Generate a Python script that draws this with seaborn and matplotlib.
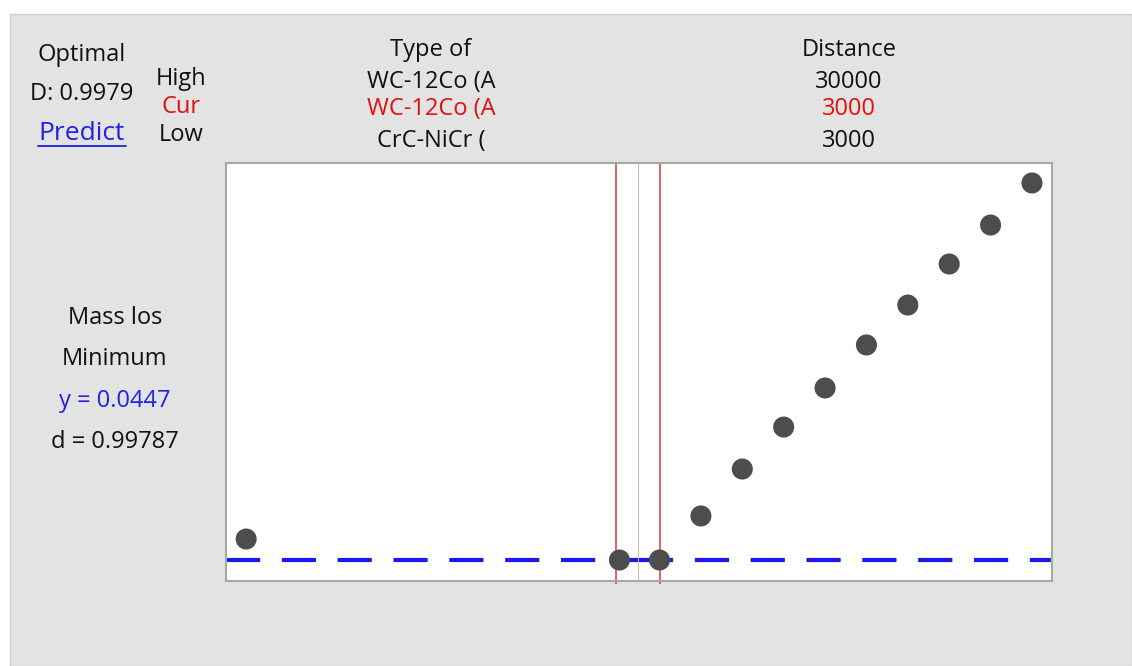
import matplotlib
matplotlib.use("Agg")
import matplotlib.pyplot as plt
import matplotlib.patches as mpatches
import pandas as pd
import seaborn as sns

# Response optimizer data (Mass loss vs factors)
type_levels = ["CrC-NiCr (", "WC-12Co (A"]
type_mass_loss = [0.0671, 0.0447]
distance = [3000, 6000, 9000, 12000, 15000, 18000, 21000, 24000, 27000, 30000]
distance_mass_loss = [0.0447, 0.0917, 0.1418, 0.1866, 0.2283,
                      0.2742, 0.3168, 0.3606, 0.4022, 0.4471]
y_target = 0.0447
type_cur = "WC-12Co (A"
distance_cur = 3000

sns.set_style("white")
plt.rcParams['font.family'] = ['Open Sans', 'DejaVu Sans']

W, H = 1132, 666
fig = plt.figure(figsize=(W / 100, H / 100), dpi=100)
fig.patch.set_facecolor("white")

# grey panel background
bg = mpatches.Rectangle((10 / W, 0), 1 - 10 / W, 1 - 14 / H, transform=fig.transFigure,
                        facecolor="#e3e3e3", edgecolor="#d0d0d0", linewidth=1, zorder=-5)
fig.patches.append(bg)


def fx(px):
    return px / W


def fy(py):
    return 1 - py / H


bottom = fy(581)
height = fy(163) - bottom
ax1 = fig.add_axes([fx(226), bottom, fx(638.5) - fx(226), height])
ax2 = fig.add_axes([fx(638.5), bottom, fx(1052) - fx(638.5), height])

ylim = (0.0223, 0.4684)
dot = "#4d4d4d"
ext = (ylim[0] - 0.0035, ylim[1])  # red lines poke a bit below the frame

df1 = pd.DataFrame({"x": [0, 1], "y": type_mass_loss})
sns.scatterplot(data=df1, x="x", y="y", ax=ax1, s=230, color=dot, edgecolor="none", zorder=3)
ax1.set_xlim(-0.054, 1.051)
ax1.vlines(type_levels.index(type_cur) - 0.008, *ext, color="#e05050", lw=1.4,
           alpha=0.9, zorder=2, clip_on=False)

df2 = pd.DataFrame({"x": distance, "y": distance_mass_loss})
sns.scatterplot(data=df2, x="x", y="y", ax=ax2, s=230, color=dot, edgecolor="none", zorder=3)
ax2.set_xlim(1476, 31452)
ax2.vlines(distance_cur, *ext, color="#e05050", lw=1.4, alpha=0.9, zorder=2, clip_on=False)

for ax in (ax1, ax2):
    ax.set_ylim(*ylim)
    ax.axhline(y_target, color="#1a1aee", lw=3, dashes=(8.2, 5.2), zorder=1)
    ax.set_xticks([])
    ax.set_yticks([])
    ax.set_xlabel("")
    ax.set_ylabel("")
    ax.set_facecolor("white")
    for s in ax.spines.values():
        s.set_color("#a8a8a8")
        s.set_linewidth(1.5)
ax1.spines["right"].set_color("#bdbdbd")
ax2.spines["left"].set_visible(False)

fs = 17
black = "#111111"
red = "#e01010"
blue = "#2020e8"


def txt(px, py, s, color=black, size=fs):
    fig.text(fx(px), fy(py + 2), s, ha="center", va="center", fontsize=size, color=color)


txt(82, 53, "Optimal")
txt(82, 92, "D: 0.9979")
txt(82, 131, "Predict", color=blue, size=19)
fig.add_artist(plt.Line2D([fx(38), fx(126)], [fy(146), fy(146)], color=blue, lw=1.3))
txt(181, 77, "High")
txt(181, 105, "Cur", color=red)
txt(181, 133, "Low")

txt(431, 48, "Type of")
txt(431, 80, type_levels[1])
txt(431, 107, type_cur, color=red)
txt(431, 139, type_levels[0])

txt(849, 48, "Distance")
txt(849, 80, str(max(distance)))
txt(849, 107, str(distance_cur), color=red)
txt(849, 139, str(min(distance)))

txt(115, 316, "Mass los")
txt(115, 357, "Minimum")
txt(115, 399, "y = 0.0447", color=blue)
txt(115, 440, "d = 0.99787")

fig.savefig("out.png", dpi=100)
